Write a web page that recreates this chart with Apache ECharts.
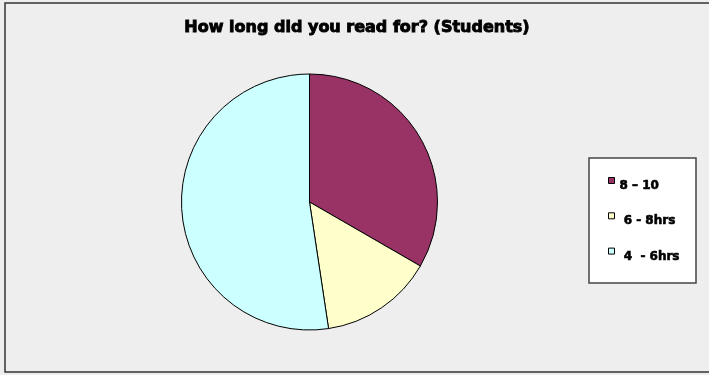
<!DOCTYPE html>
<html><head><meta charset="utf-8">
<script src="https://cdn.jsdelivr.net/npm/echarts@6/dist/echarts.min.js"></script>
<style>html,body{margin:0;padding:0;background:#eeeeee}#c{width:709px;height:375px}</style>
</head><body><div id="c"></div>
<script>
const titleText = 'How long did you read for? (Students)';
const categories = ['8 \u2013 10', ' 6 - 8hrs', ' 4  - 6hrs'];
const values = [7, 3, 11];
const colors = ['#993366', '#FFFFCC', '#CCFFFF'];

const chart = echarts.init(document.getElementById('c'));
chart.setOption({
  backgroundColor: '#eeeeee',
  animation: false,
  title: {
    text: titleText, left: 352, top: 15, textAlign: 'center',
    textStyle: {fontFamily: 'DejaVu Sans', fontWeight: 'bold', fontSize: 16, color: '#000',
      textBorderColor: '#000', textBorderWidth: 0.9}
  },
  graphic: [
    {type: 'rect', shape: {x: 5, y: 3, width: 710, height: 369}, style: {fill: 'none', stroke: '#333', lineWidth: 1.5}, z: 10},
    {type: 'rect', shape: {x: 589, y: 158, width: 107, height: 125}, style: {fill: '#ffffff', stroke: '#444', lineWidth: 1.5}, z: 0}
  ],
  legend: {
    orient: 'vertical', left: 603, top: 172,
    itemWidth: 6, itemHeight: 6, itemGap: 20,
    icon: 'rect',
    itemStyle: {borderColor: '#000', borderWidth: 1},
    formatter: '{a|{name}}',
    textStyle: {
      rich: {a: {fontFamily: 'DejaVu Sans', fontWeight: 'bold', fontSize: 12, color: '#000',
        textBorderColor: '#000', textBorderWidth: 0.6, padding: [11, 0, 0, 0]}}
    },
    data: categories, z: 5
  },
  series: [{
    type: 'pie', center: [309.5, 202], radius: 128,
    startAngle: 90, clockwise: true,
    label: {show: false}, labelLine: {show: false},
    emphasis: {disabled: true},
    itemStyle: {borderColor: '#000', borderWidth: 1},
    data: categories.map((n, i) => ({name: n, value: values[i], itemStyle: {color: colors[i]}}))
  }]
});
</script></body></html>
